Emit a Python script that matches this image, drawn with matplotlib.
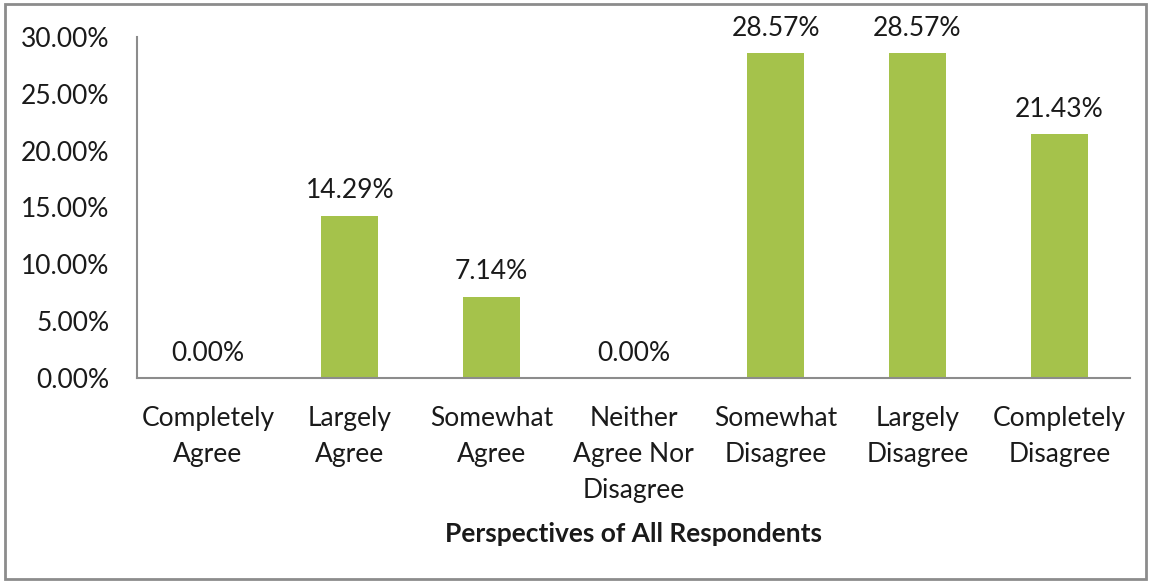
import numpy as np
import matplotlib
matplotlib.use('Agg')
import matplotlib.pyplot as plt
from matplotlib.patches import Rectangle
from matplotlib.ticker import FuncFormatter

# data
categories = ['Completely\nAgree', 'Largely\nAgree', 'Somewhat\nAgree', 'Neither\nAgree Nor\nDisagree',
              'Somewhat\nDisagree', 'Largely\nDisagree', 'Completely\nDisagree']
shares = [0.00, 14.29, 7.14, 0.00, 28.57, 28.57, 21.43]
xlabel = 'Perspectives of All Respondents'

plt.rcParams['font.family'] = ['Lato', 'DejaVu Sans']
fs = 19

fig = plt.figure(figsize=(11.51, 5.82), dpi=100)
ax = fig.add_axes([0.119, 0.3505, 0.863, 0.586])

x = np.arange(len(categories))
bars = ax.bar(x, shares, width=0.4, color='#A5C24B')
ax.bar_label(bars, labels=['%.2f%%' % v for v in shares], padding=9, fontsize=fs, color='#1a1a1a')

ax.set_xlim(-0.5, len(categories) - 0.5)
ax.set_ylim(0, 30)
ax.set_yticks(np.arange(0, 30.1, 5))
ax.yaxis.set_major_formatter(FuncFormatter(lambda v, p: '%.2f%%' % v))
ax.set_xticks(x)
ax.set_xticklabels(categories, fontsize=fs, linespacing=1.55)
ax.tick_params(axis='both', length=0, labelsize=fs, colors='#1a1a1a')
ax.tick_params(axis='x', pad=20)
ax.tick_params(axis='y', pad=20)

for s in ['top', 'right']:
    ax.spines[s].set_visible(False)
for s in ['left', 'bottom']:
    ax.spines[s].set_color('#8c8c8c')
    ax.spines[s].set_linewidth(1.5)

ax.set_xlabel(xlabel, fontsize=fs, fontweight='bold', labelpad=14, color='#1a1a1a')

# outer frame like the spreadsheet chart area
fig.patches.append(Rectangle((0.004, 0.005), 0.992, 0.988, transform=fig.transFigure,
                             fill=False, edgecolor='#8c8c8c', linewidth=2))

fig.savefig('out.png', dpi=100)
